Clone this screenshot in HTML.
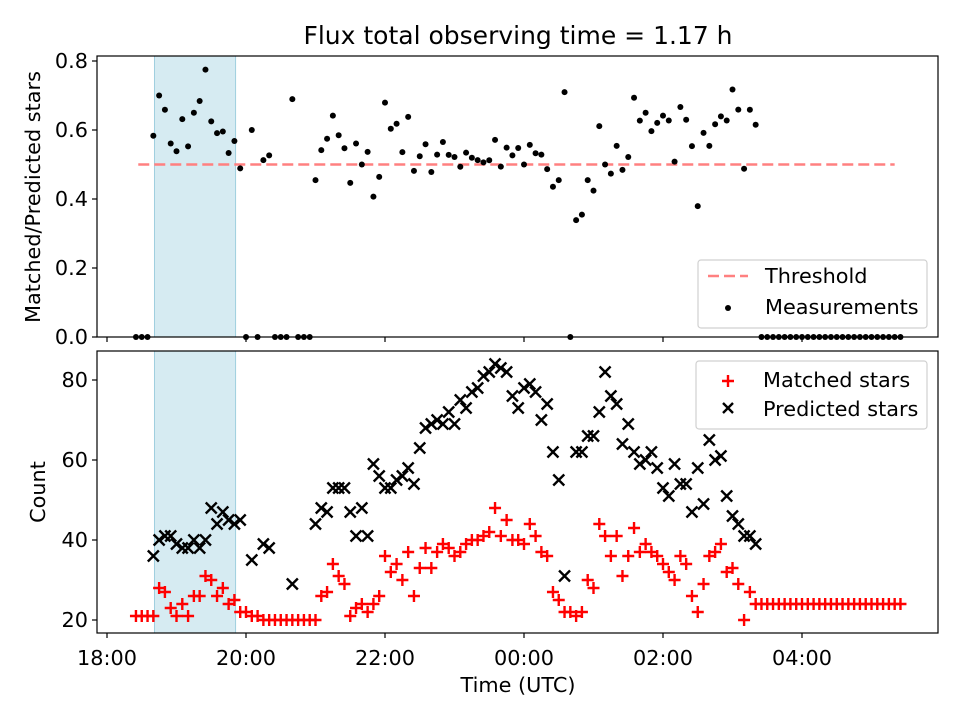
<!DOCTYPE html>
<html><head><meta charset="utf-8"><style>
html,body{margin:0;padding:0;background:#fff;}
svg{display:block;font-family:"DejaVu Sans","Liberation Sans",sans-serif;}
</style></head><body>
<svg id="chart" width="960" height="720" viewBox="0 0 960 720"></svg>
<script>
const times = [25,30,35,40,45,50,55,60,65,70,75,80,85,90,95,100,105,110,115,120,125,130,135,140,145,150,155,160,165,170,175,180,185,190,195,200,205,210,215,220,225,230,235,240,245,250,255,260,265,270,275,280,285,290,295,300,305,310,315,320,325,330,335,340,345,350,355,360,365,370,375,380,385,390,395,400,405,410,415,420,425,430,435,440,445,450,455,460,465,470,475,480,485,490,495,500,505,510,515,520,525,530,535,540,545,550,555,560,565,570,575,580,585,590,595,600,605,610,615,620,625,630,635,640,645,650,655,660,665,670,675,680,685];
const matched = [21,21,21,21,28,27,23,21,24,21,26,26,31,30,26,28,24,25,22,22,21,21,20,20,20,20,20,20,20,20,20,20,26,27,34,31,29,21,23,24,22,24,26,36,32,34,30,37,26,33,38,33,37,39,38,36,37,39,40,40,41,42,48,41,45,40,40,39,44,41,37,36,27,25,22,22,21,22,30,28,44,41,36,41,31,36,43,37,39,37,36,34,32,30,36,34,26,22,29,36,37,39,32,33,29,20,27,24,24,24,24,24,24,24,24,24,24,24,24,24,24,24,24,24,24,24,24,24,24,24,24,24,24];
const predicted = [null,null,null,36,40,41,41,39,38,38,40,38,40,48,44,47,45,44,45,null,35,null,39,38,null,null,null,29,null,null,null,44,48,47,53,53,53,47,41,48,41,59,56,53,53,55,56,58,54,63,68,69,70,69,72,69,75,73,77,78,81,82,84,83,82,76,73,78,79,77,70,74,62,55,31,null,62,62,66,66,72,82,76,74,64,69,62,59,60,62,58,53,51,59,54,54,47,58,49,65,60,61,51,46,44,41,41,39,null,null,null,null,null,null,null,null,null,null,null,null,null,null,null,null,null,null,null,null,null,null,null,null,null];
const threshold = 0.5;
const thresholdRange = [27, 680];
const shadeRange = [41, 111];
const xTickMinutes = [0,120,240,360,480,600];
const xTickLabels = ["18:00","20:00","22:00","00:00","02:00","04:00"];
const topTicks = [0,0.2,0.4,0.6,0.8];
const topTickLabels = ["0.0","0.2","0.4","0.6","0.8"];
const botTicks = [20,40,60,80];

const NS="http://www.w3.org/2000/svg";
const svg=document.getElementById('chart');
function mk(tag,attrs,parent){const e=document.createElementNS(NS,tag);for(const k in attrs)e.setAttribute(k,attrs[k]);(parent||svg).appendChild(e);return e;}
const L=97,R=938,T1=56,B1=337,T2=351,B2=633;
const FS='20.8';
const xs=m=>107+m*69.5/60;
const y1=v=>337-v*345;
const y2=c=>620-(c-20)*4;

const defs=mk('defs',{});
const c1=mk('clipPath',{id:'c1'},defs);mk('rect',{x:L,y:T1,width:R-L,height:B1-T1+4},c1);
const c2=mk('clipPath',{id:'c2'},defs);mk('rect',{x:L,y:T2,width:R-L,height:B2-T2},c2);

let t=mk('text',{x:518,y:44,'text-anchor':'middle','font-size':'25'});t.textContent='Flux total observing time = 1.17 h';



// ---- top panel
const g1=mk('g',{});


let sh=mk('rect',{x:xs(shadeRange[0]),y:T1,width:xs(shadeRange[1])-xs(shadeRange[0]),height:B1-T1,fill:'#add8e6','fill-opacity':0.5,stroke:'#9fcfdf','stroke-width':1},g1);


let th=mk('line',{x1:xs(thresholdRange[0]),x2:xs(thresholdRange[1]),y1:y1(threshold),y2:y1(threshold),stroke:'#ff8080','stroke-width':2.5,'stroke-dasharray':'11,5'},g1);


const pts=mk('g',{'clip-path':'url(#c1)'},g1);
for(let i=0;i<times.length;i++){
  const p=predicted[i];
  const r=(p===null||p===0)?0:matched[i]/p;
  const c=mk('circle',{cx:xs(times[i]),cy:y1(r),r:3,fill:'#000'},pts);
  
  
}
mk('rect',{x:L,y:T1,width:R-L,height:B1-T1,fill:'none',stroke:'#000','stroke-width':1.2},g1);
topTicks.forEach((v,i)=>{
  mk('line',{x1:L-5,x2:L,y1:y1(v),y2:y1(v),stroke:'#000','stroke-width':1.2},g1);
  const tl=mk('text',{x:L-9,y:y1(v)+7,'text-anchor':'end','font-size':FS},g1);tl.textContent=topTickLabels[i];
  
  
});
xTickMinutes.forEach(m=>{mk('line',{x1:xs(m),x2:xs(m),y1:B1,y2:B1+5,stroke:'#000','stroke-width':1.2},g1);});
let yl1=mk('text',{x:0,y:0,transform:'translate(40,197) rotate(-90)','text-anchor':'middle','font-size':FS},g1);yl1.textContent='Matched/Predicted stars';


const lg1=mk('g',{},g1);


mk('rect',{x:698,y:260,width:229,height:68,rx:3,fill:'#fff','fill-opacity':0.8,stroke:'#d0d0d0','stroke-width':1.2},lg1);
mk('line',{x1:708,x2:748,y1:276,y2:276,stroke:'#ff8080','stroke-width':2.5,'stroke-dasharray':'11,5'},lg1);
let lt=mk('text',{x:765,y:283,'font-size':FS},lg1);lt.textContent='Threshold';
mk('circle',{cx:728,cy:308,r:3,fill:'#000'},lg1);
lt=mk('text',{x:765,y:314,'font-size':FS},lg1);lt.textContent='Measurements';

// ---- bottom panel
const g2=mk('g',{});


sh=mk('rect',{x:xs(shadeRange[0]),y:T2,width:xs(shadeRange[1])-xs(shadeRange[0]),height:B2-T2,fill:'#add8e6','fill-opacity':0.5,stroke:'#9fcfdf','stroke-width':1},g2);


const mg=mk('g',{'clip-path':'url(#c2)'},g2);
for(let i=0;i<times.length;i++){
  const x=xs(times[i]),y=y2(matched[i]);
  const pl=mk('path',{d:`M${x-6},${y}H${x+6}M${x},${y-6}V${y+6}`,stroke:'#ff0000','stroke-width':2.4,fill:'none'},mg);
  
  
}
for(let i=0;i<times.length;i++){
  if(predicted[i]===null)continue;
  const x=xs(times[i]),y=y2(predicted[i]);
  const xm=mk('path',{d:`M${x-5.5},${y-5.5}L${x+5.5},${y+5.5}M${x-5.5},${y+5.5}L${x+5.5},${y-5.5}`,stroke:'#000','stroke-width':2.4,fill:'none'},mg);
  
  
}
mk('rect',{x:L,y:T2,width:R-L,height:B2-T2,fill:'none',stroke:'#000','stroke-width':1.2},g2);
botTicks.forEach(v=>{
  mk('line',{x1:L-5,x2:L,y1:y2(v),y2:y2(v),stroke:'#000','stroke-width':1.2},g2);
  const tl=mk('text',{x:L-9,y:y2(v)+7,'text-anchor':'end','font-size':FS},g2);tl.textContent=String(v);
  
  
});
xTickMinutes.forEach((m,i)=>{
  mk('line',{x1:xs(m),x2:xs(m),y1:B2,y2:B2+5,stroke:'#000','stroke-width':1.2},g2);
  const tl=mk('text',{x:xs(m),y:B2+32,'text-anchor':'middle','font-size':FS},g2);tl.textContent=xTickLabels[i];
  
  
});
let yl2=mk('text',{x:0,y:0,transform:'translate(45,492) rotate(-90)','text-anchor':'middle','font-size':FS},g2);yl2.textContent='Count';


let xl=mk('text',{x:518,y:692,'text-anchor':'middle','font-size':FS},g2);xl.textContent='Time (UTC)';


const lg2=mk('g',{},g2);


mk('rect',{x:696,y:361,width:231,height:68,rx:3,fill:'#fff','fill-opacity':0.8,stroke:'#d0d0d0','stroke-width':1.2},lg2);
mk('path',{d:'M722,381H734M728,375V387',stroke:'#ff0000','stroke-width':2.4},lg2);
lt=mk('text',{x:763,y:387,'font-size':FS},lg2);lt.textContent='Matched stars';
mk('path',{d:'M723,403L733,413M723,413L733,403',stroke:'#000','stroke-width':2.4},lg2);
lt=mk('text',{x:763,y:416,'font-size':FS},lg2);lt.textContent='Predicted stars';
</script>
</body></html>
